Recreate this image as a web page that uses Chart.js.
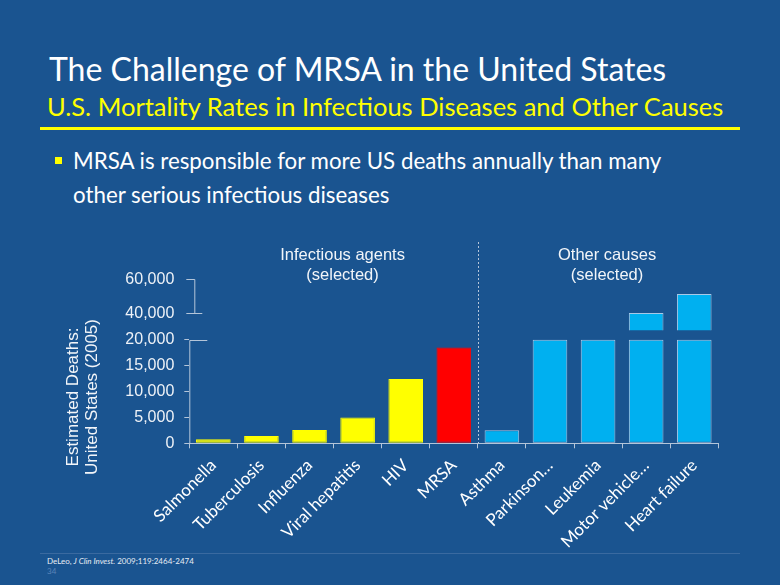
<!DOCTYPE html>
<html>
<head>
<meta charset="utf-8">
<script src="https://cdn.jsdelivr.net/npm/chart.js@4.4.1/dist/chart.umd.min.js"></script>
<style>
  html, body { margin: 0; padding: 0; }
  body { width: 780px; height: 585px; background: #1a5490; position: relative; overflow: hidden; font-family: 'Lato', sans-serif; }
  .abs { position: absolute; white-space: nowrap; line-height: 1.2; }
  #title { left: 49px; top: 50px; font-size: 32px; color: #ffffff; }
  #subtitle { left: 47px; top: 91px; font-size: 25.5px; color: #ffff00; }
  #rule { left: 40px; top: 127px; width: 700px; height: 3px; background: #ffff00; }
  #bullet { left: 55px; top: 157px; width: 7px; height: 7px; background: #ffff00; }
  #text { left: 73px; top: 144px; font-size: 22.3px; line-height: 34px; color: #ffffff; }
  #footline { left: 40px; top: 553px; width: 700px; height: 1px; background: #3a6aa0; }
  #cite { left: 47px; top: 557px; font-size: 8px; color: #e6ecf4; }
  #page { left: 47px; top: 567px; font-size: 8px; color: #5b84b8; }
  #wrap { position: absolute; left: 0; top: 220px; width: 780px; height: 330px; }
</style>
</head>
<body>
<div class="abs" id="title">The Challenge of MRSA in the United States</div>
<div class="abs" id="subtitle">U.S. Mortality Rates in Infectious Diseases and Other Causes</div>
<div class="abs" id="rule"></div>
<div class="abs" id="bullet"></div>
<div class="abs" id="text">MRSA is responsible for more US deaths annually than many<br>other serious infectious diseases</div>
<div class="abs" id="footline"></div>
<div class="abs" id="cite">DeLeo, <i>J Clin Invest.</i> 2009;119:2464-2474</div>
<div class="abs" id="page">34</div>
<div id="wrap"><canvas id="myChart-Deaths" width="780" height="330"></canvas></div>

<script>
// categories and values
const causes = ['Salmonella', 'Tuberculosis', 'Influenza', 'Viral hepatitis', 'HIV', 'MRSA',
  'Asthma', 'Parkinson…', 'Leukemia', 'Motor vehicle…', 'Heart failure'];
const deaths = [800, 1400, 2550, 5000, 12400, 18500, 2500, 20000, 20000, 40200, 51300];
const barColors = ['#ffff00', '#ffff00', '#ffff00', '#ffff00', '#ffff00', '#ff0000',
  '#00b0f0', '#00b0f0', '#00b0f0', '#00b0f0', '#00b0f0'];
const groups = ['Infectious agents', 'Other causes'];
const groupSize = [6, 5];

// broken axis: lower part up to the break, upper part resumes above it
const lowerTicks = [0, 5000, 10000, 15000, 20000];
const upperTicks = [40000, 60000];
const breakAt = 20000;
const resumeAt = 30000;

const lowerPart = deaths.map(v => Math.min(v, breakAt));
const upperPart = deaths.map(v => v > breakAt ? v : null);
const borders = barColors.map(c => c === '#00b0f0' ? '#a9c8e6' : c);

const lineColor = '#b4c5d9';
const tickFont = { family: "'Liberation Sans', Arial, sans-serif", size: 16 };

const decorations = {
  id: 'decorations',
  afterDatasetsDraw(chart) {
    const ctx = chart.ctx;
    const x = chart.scales.x, y = chart.scales.y, y2 = chart.scales.y2;
    const left = chart.chartArea.left;
    ctx.save();
    ctx.strokeStyle = lineColor;
    ctx.lineWidth = 1;

    // lower axis line and the mark at the break
    const yb = Math.round(y.getPixelForValue(breakAt)) + 0.5;
    ctx.beginPath();
    ctx.moveTo(left + 0.5, y.getPixelForValue(0));
    ctx.lineTo(left + 0.5, yb);
    ctx.lineTo(left + 18, yb);
    ctx.stroke();

    // bracket of the upper axis
    const t = Math.round(y2.getPixelForValue(upperTicks[1])) + 0.5;
    const b = Math.round(y2.getPixelForValue(upperTicks[0])) + 0.5;
    ctx.beginPath();
    ctx.moveTo(left - 3, t);
    ctx.lineTo(left + 5.5, t);
    ctx.lineTo(left + 5.5, b);
    ctx.moveTo(left - 3, b);
    ctx.lineTo(left + 13, b);
    ctx.stroke();

    // dotted separator between the two groups
    const sep = Math.round((x.getPixelForValue(groupSize[0] - 1) + x.getPixelForValue(groupSize[0])) / 2) + 0.5;
    ctx.setLineDash([2, 2]);
    ctx.beginPath();
    ctx.moveTo(sep, 22);
    ctx.lineTo(sep, x.top);
    ctx.stroke();
    ctx.setLineDash([]);

    // group headings
    ctx.fillStyle = '#f2f5f9';
    ctx.font = "16.5px 'Liberation Sans', Arial, sans-serif";
    ctx.textAlign = 'center';
    ctx.textBaseline = 'alphabetic';
    let start = 0;
    groups.forEach((g, i) => {
      const a = x.getPixelForValue(start);
      const z = x.getPixelForValue(start + groupSize[i] - 1);
      const cx = (a + z) / 2 + 9;
      ctx.fillText(g, cx, 40);
      ctx.fillText('(selected)', cx, 60);
      start += groupSize[i];
    });

    // axis title
    ctx.font = "17px 'Liberation Sans', Arial, sans-serif";
    ctx.translate(0, 177);
    ctx.rotate(-Math.PI / 2);
    ctx.fillText('Estimated Deaths:', 0, 78);
    ctx.fillText('United States (2005)', 0, 97);
    ctx.restore();
  }
};

const deathsChart = document.getElementById('myChart-Deaths');

new Chart(deathsChart, {
  type: 'bar',
  data: {
    labels: causes,
    datasets: [{
      label: 'Estimated deaths',
      data: lowerPart,
      yAxisID: 'y',
      backgroundColor: barColors,
      borderColor: borders,
      borderWidth: 1,
      borderSkipped: false
    }, {
      label: 'Estimated deaths (above break)',
      data: upperPart,
      yAxisID: 'y2',
      backgroundColor: barColors,
      borderColor: borders,
      borderWidth: 1,
      borderSkipped: false
    }]
  },
  options: {
    responsive: false,
    animation: false,
    grouped: false,
    barPercentage: 0.72,
    categoryPercentage: 1,
    layout: { padding: { left: 0, right: 61.7, top: 59.3, bottom: 0 } },
    plugins: {
      legend: { display: false },
      tooltip: { enabled: false }
    },
    scales: {
      x: {
        afterFit: s => { s.height = 106.7; },
        grid: { drawOnChartArea: false, tickLength: 5, color: lineColor, offset: true },
        border: { color: lineColor },
        ticks: {
          autoSkip: false, maxRotation: 45, minRotation: 45, padding: 7,
          color: '#ffffff', font: { family: 'Lato', size: 17 }
        }
      },
      y: {
        stack: 'deaths', stackWeight: 113, weight: 1,
        min: 0, max: 21800,
        afterFit: s => { s.width = 189.3; },
        afterBuildTicks: s => { s.ticks = lowerTicks.map(v => ({ value: v })); },
        grid: { drawOnChartArea: false, tickLength: 5, color: lineColor },
        border: { display: false },
        ticks: { color: '#eef2f7', font: tickFont, padding: 10, callback: v => v.toLocaleString('en-US') }
      },
      y2: {
        stack: 'deaths', stackWeight: 51, weight: 2,
        position: 'left',
        min: resumeAt, max: 60000,
        afterFit: s => { s.width = 189.3; },
        afterBuildTicks: s => { s.ticks = upperTicks.map(v => ({ value: v })); },
        grid: { drawOnChartArea: false, tickLength: 5, color: 'rgba(0,0,0,0)' },
        border: { display: false },
        ticks: { color: '#eef2f7', font: tickFont, padding: 10, callback: v => v.toLocaleString('en-US') }
      }
    }
  },
  plugins: [decorations]
});
</script>
</body>
</html>
